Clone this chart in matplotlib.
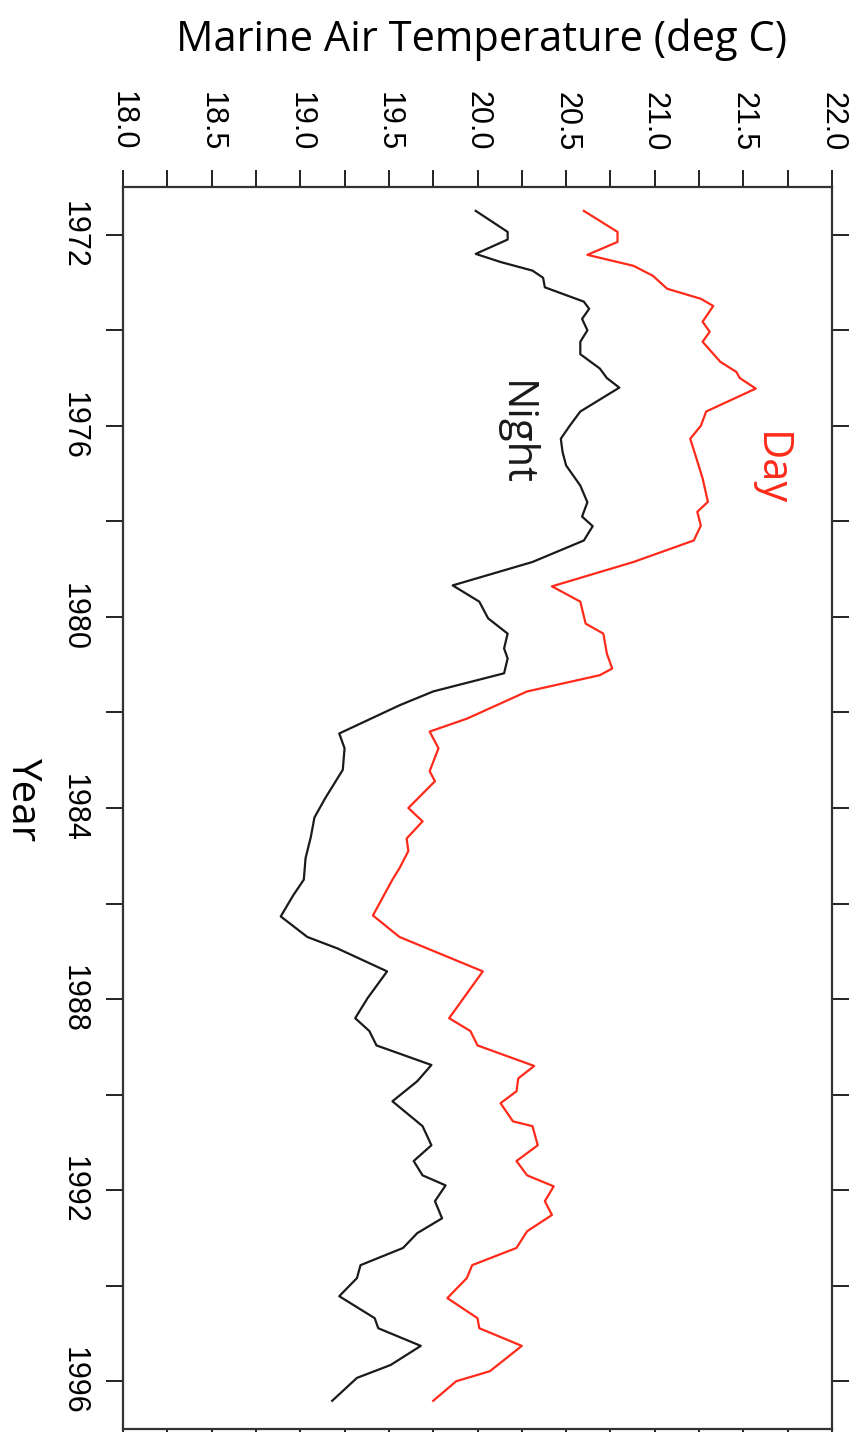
import matplotlib
matplotlib.use("Agg")
from matplotlib import pyplot as plt
import numpy as np

# night (black) series: year, temperature
night_year = [1971.5, 1971.94, 1972.1, 1972.4, 1972.57, 1972.75, 1972.9, 1973.1, 1973.4, 1973.55,
              1973.76, 1974.0, 1974.24, 1974.5, 1974.8, 1975.0, 1975.2, 1975.7, 1976.0, 1976.27,
              1976.55, 1976.83, 1977.25, 1977.6, 1977.9, 1978.1, 1978.4, 1978.85, 1979.34, 1979.68,
              1980.03, 1980.35, 1980.66, 1980.87, 1981.18, 1981.56, 1981.85, 1982.44, 1982.75, 1983.2,
              1983.8, 1984.2, 1984.6, 1985.05, 1985.5, 1985.83, 1986.27, 1986.7, 1986.94, 1987.42,
              1987.98, 1988.4, 1988.67, 1988.97, 1989.38, 1989.72, 1990.14, 1990.66, 1991.06, 1991.39,
              1991.69, 1991.9, 1992.23, 1992.59, 1992.9, 1993.21, 1993.57, 1993.84, 1994.22, 1994.68,
              1994.89, 1995.26, 1995.66, 1995.93, 1996.41]
night_temp = [19.99, 20.17, 20.17, 19.99, 20.13, 20.31, 20.37, 20.38, 20.6, 20.63,
              20.59, 20.62, 20.58, 20.58, 20.69, 20.73, 20.80, 20.58, 20.52, 20.47,
              20.48, 20.5, 20.58, 20.62, 20.59, 20.65, 20.6, 20.31, 19.86, 20.01,
              20.06, 20.17, 20.15, 20.17, 20.15, 19.75, 19.56, 19.22, 19.25, 19.24,
              19.14, 19.08, 19.06, 19.03, 19.02, 18.96, 18.89, 19.04, 19.21, 19.49,
              19.38, 19.31, 19.39, 19.43, 19.74, 19.66, 19.52, 19.69, 19.74, 19.64,
              19.69, 19.82, 19.76, 19.8, 19.66, 19.58, 19.34, 19.32, 19.22, 19.42,
              19.44, 19.68, 19.51, 19.32, 19.18]

# day (red) series: year, temperature
day_year = [1971.5, 1971.94, 1972.15, 1972.42, 1972.65, 1972.86, 1973.13, 1973.34, 1973.49, 1973.82,
            1974.03, 1974.24, 1974.66, 1974.87, 1975.0, 1975.22, 1975.7, 1976.0, 1976.27, 1976.62,
            1977.1, 1977.59, 1977.8, 1978.09, 1978.4, 1978.85, 1979.36, 1979.68, 1980.14, 1980.35,
            1980.77, 1981.08, 1981.22, 1981.56, 1982.13, 1982.4, 1982.75, 1983.23, 1983.44, 1984.0,
            1984.28, 1984.64, 1984.9, 1985.26, 1985.5, 1986.25, 1986.7, 1987.42, 1988.4, 1988.67,
            1988.97, 1989.4, 1989.66, 1989.93, 1990.18, 1990.56, 1990.66, 1991.06, 1991.39, 1991.69,
            1991.92, 1992.23, 1992.52, 1992.86, 1993.21, 1993.57, 1993.84, 1994.26, 1994.68, 1994.89,
            1995.26, 1995.79, 1996.0, 1996.41]
day_temp = [20.6, 20.79, 20.79, 20.62, 20.88, 20.99, 21.07, 21.26, 21.33, 21.27,
            21.31, 21.27, 21.37, 21.46, 21.48, 21.57, 21.29, 21.26, 21.2, 21.23,
            21.27, 21.3, 21.24, 21.26, 21.22, 20.88, 20.42, 20.58, 20.61, 20.71,
            20.73, 20.76, 20.69, 20.28, 19.94, 19.73, 19.78, 19.73, 19.76, 19.61,
            19.69, 19.6, 19.61, 19.56, 19.52, 19.41, 19.56, 20.03, 19.84, 19.96,
            20.0, 20.32, 20.23, 20.22, 20.13, 20.2, 20.31, 20.34, 20.22, 20.28,
            20.43, 20.38, 20.42, 20.28, 20.22, 19.97, 19.94, 19.83, 20.0, 20.01,
            20.25, 20.07, 19.88, 19.75]

temp_ticks = np.arange(18.0, 22.01, 0.25)
temp_labels = [f"{t:.1f}" if abs(t * 2 - round(t * 2)) < 1e-6 else "" for t in temp_ticks]
year_ticks = np.arange(1972, 1997, 2)
year_labels = [str(y) if y % 4 == 0 else "" for y in year_ticks]

fig = plt.figure(figsize=(8.59, 14.32), dpi=100)
ax = fig.add_axes([123 / 859, 3 / 1432, (832 - 123) / 859, (1429 - 187) / 1432])

ax.plot(night_temp, night_year, color="#1a1a1a", lw=1.6)
ax.plot(day_temp, day_year, color="#ff2a1a", lw=1.6)

ax.set_xlim(18.0, 22.0)
ax.set_ylim(1997.0, 1971.0)

ax.set_xticks(temp_ticks)
ax.set_xticklabels(temp_labels, rotation=-90, fontsize=22, family="Liberation Sans")
ax.set_yticks(year_ticks)
ax.set_yticklabels(year_labels, rotation=-90, fontsize=22, family="Liberation Sans", va="center")
ax.tick_params(axis="x", top=True, bottom=True, labeltop=True, labelbottom=False,
               direction="out", length=12, width=1.4, pad=14, color="#222222")
ax.tick_params(axis="y", left=True, right=True, labelleft=True, labelright=False,
               direction="out", length=12, width=1.4, pad=13, color="#222222")
for s in ax.spines.values():
    s.set_linewidth(1.6)
    s.set_color("#333333")

ax.text(21.65, 1976.9, "Day", color="#ff2a1a", rotation=-90, fontsize=30,
        family="Open Sans", ha="center", va="center")
ax.text(20.21, 1976.16, "Night", color="#1a1a1a", rotation=-90, fontsize=30,
        family="Open Sans", ha="center", va="center")

fig.text(482 / 859, 1 - 40 / 1432, "Marine Air Temperature (deg C)", fontsize=30,
         family="Open Sans", ha="center", va="center")
fig.text(22 / 859, 1 - 800 / 1432, "Year", fontsize=29, family="Open Sans",
         rotation=-90, ha="center", va="center")

fig.savefig("out.png", dpi=100)
